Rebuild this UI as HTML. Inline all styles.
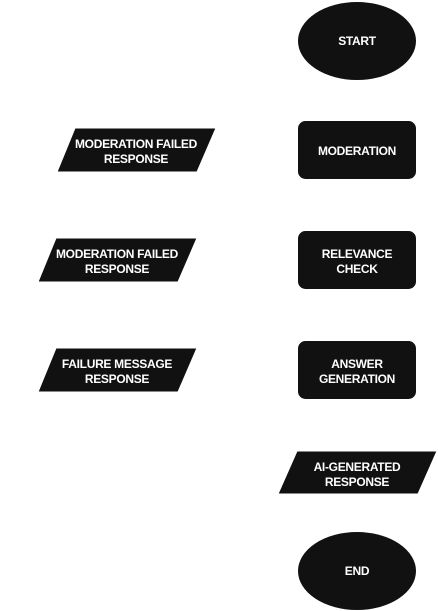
<!DOCTYPE html>
<html><head><style>
html,body{margin:0;padding:0;background:#fff;width:438px;height:611px;overflow:hidden}
text{font-family:"Liberation Sans",Arial,sans-serif;font-size:12px;font-weight:bold;letter-spacing:-0.3px;fill:#fff;text-anchor:middle}
</style></head><body>
<svg width="438" height="611" viewBox="0 0 438 611" xmlns="http://www.w3.org/2000/svg">
<g fill="#111" stroke="#fff" stroke-width="1">
<ellipse cx="357" cy="41" rx="59.5" ry="39.5"/>
<rect x="297.5" y="120.5" width="119" height="59" rx="8"/>
<rect x="297.5" y="230.5" width="119" height="59" rx="8"/>
<rect x="297.5" y="340.5" width="119" height="59" rx="8"/>
<polygon points="297,451 437,451 418,494 278,494"/>
<ellipse cx="357" cy="571" rx="59.5" ry="39.5"/>
<polygon points="75,128 216,128 197,172 57,172"/>
<polygon points="56,238 197,238 178,282 38,282"/>
<polygon points="56,348 197,348 178,392 38,392"/>
</g>
<text x="357" y="45">START</text>
<text x="357" y="155">MODERATION</text>
<text x="357" y="258">RELEVANCE</text>
<text x="357" y="273">CHECK</text>
<text x="357" y="368">ANSWER</text>
<text x="357" y="383">GENERATION</text>
<text x="357" y="471">AI-GENERATED</text>
<text x="357" y="486">RESPONSE</text>
<text x="357" y="575">END</text>
<text x="136" y="148">MODERATION FAILED</text>
<text x="136" y="163">RESPONSE</text>
<text x="117" y="258">MODERATION FAILED</text>
<text x="117" y="273">RESPONSE</text>
<text x="117" y="368">FAILURE MESSAGE</text>
<text x="117" y="383">RESPONSE</text>
</svg>
</body></html>
